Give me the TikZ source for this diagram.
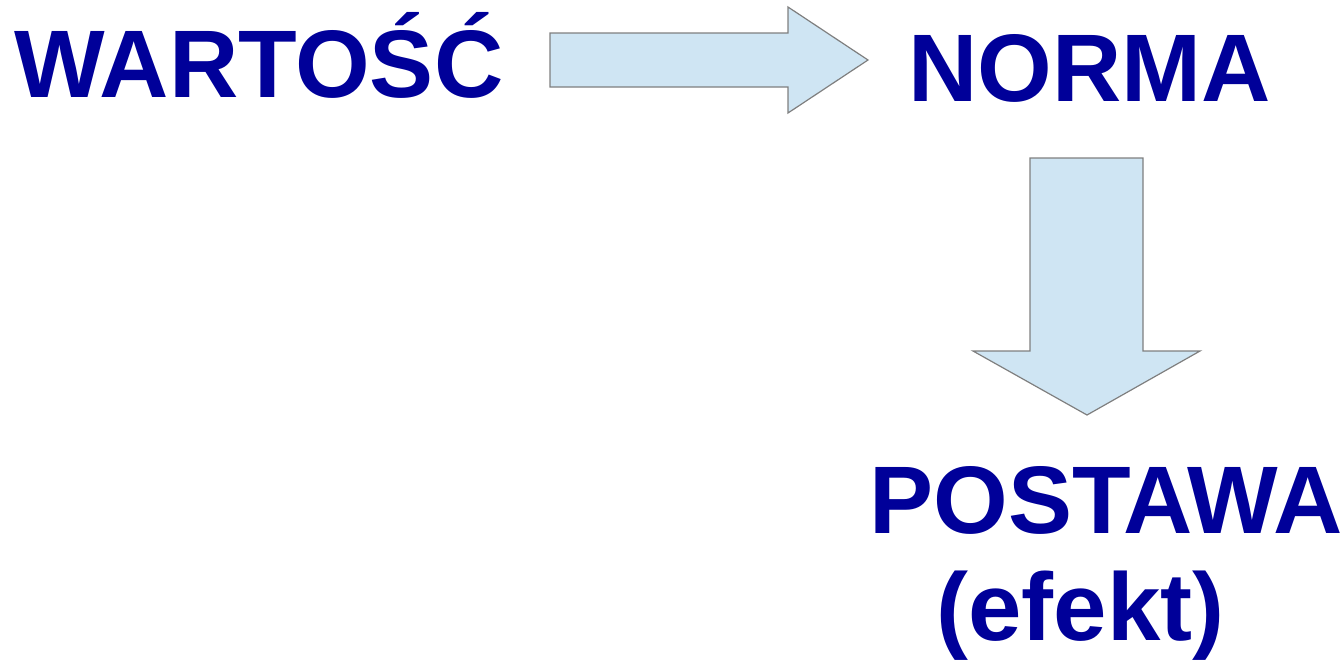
\documentclass[tikz,border=0pt]{standalone}
\usepackage{fontspec}
\setmainfont{Liberation Sans}
\definecolor{wordblue}{HTML}{000099}
\definecolor{arrowfill}{HTML}{CFE5F3}
\definecolor{arrowline}{HTML}{7F7F7F}
\begin{document}
\begin{tikzpicture}[
     x=0.5pt, y=-0.5pt,
     word/.style={inner sep=0pt,anchor=base west,text=wordblue,
       font=\fontsize{48}{58}\selectfont\bfseries},
     blockarrow/.style={fill=arrowfill,draw=arrowline,line width=0.6pt,line join=miter}
   ]
   \useasboundingbox (0,0) rectangle (1343,659);
   % Words.
   \node[word] (wartosc) at (14,97) {WARTOŚĆ};
   \node[word] (norma) at (908,101) {NORMA};
   \node[word] (postawa) at (869,533) {POSTAWA};
   \node[word] (efekt) at (936,640) {(efekt)};
   % Block arrows.
   \draw[blockarrow] (550,33) -- (788,33) -- (788,7) -- (868,60)
     -- (788,113) -- (788,87) -- (550,87) -- cycle;
   \draw[blockarrow] (1030,158) -- (1143,158) -- (1143,351) -- (1200,351)
     -- (1087,415) -- (973,351) -- (1030,351) -- cycle;
 \end{tikzpicture}
\end{document}
